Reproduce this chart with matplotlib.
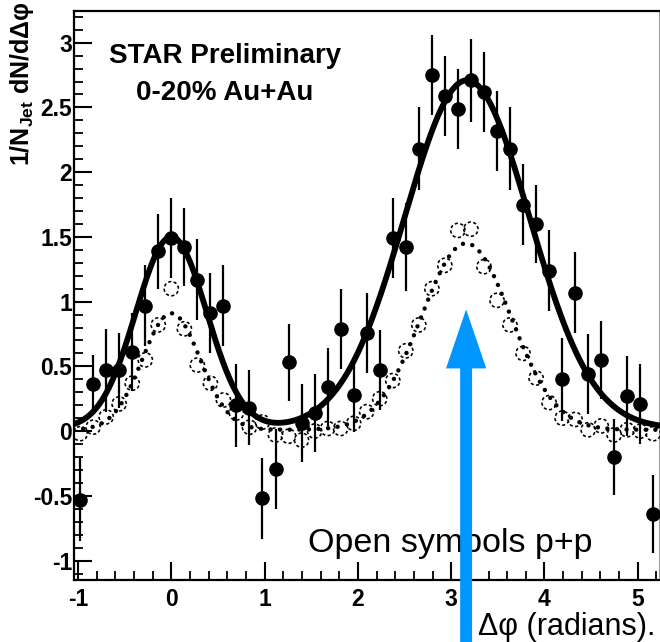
import numpy as np
import matplotlib
matplotlib.use("Agg")
import matplotlib.pyplot as plt
from matplotlib.patches import FancyArrowPatch, ArrowStyle
from matplotlib.ticker import MultipleLocator, FuncFormatter

plt.rcParams['font.family'] = ['Liberation Sans', 'DejaVu Sans']
plt.rcParams['axes.unicode_minus'] = False
plt.rcParams['mathtext.fontset'] = 'custom'
plt.rcParams['mathtext.rm'] = 'Liberation Sans:bold'
plt.rcParams['mathtext.it'] = 'Liberation Sans:bold'
plt.rcParams['mathtext.bf'] = 'Liberation Sans:bold'

# ---- data ----
dphi = [-0.977, -0.838, -0.698, -0.559, -0.419, -0.279, -0.140, 0.000, 0.140,
        0.279, 0.419, 0.559, 0.698, 0.838, 0.977, 1.117, 1.257, 1.396, 1.536,
        1.676, 1.815, 1.955, 2.094, 2.234, 2.374, 2.513, 2.653, 2.793, 2.932,
        3.072, 3.211, 3.351, 3.491, 3.630, 3.770, 3.910, 4.049, 4.189, 4.328,
        4.468, 4.608, 4.747, 4.887, 5.027, 5.166]

auau = [-0.53, 0.36, 0.47, 0.47, 0.61, 0.97, 1.39, 1.49, 1.42, 1.17, 0.91,
        0.97, 0.20, 0.18, -0.52, -0.29, 0.53, 0.06, 0.14, 0.34, 0.79, 0.28,
        0.76, 0.47, 1.49, 1.42, 2.18, 2.75, 2.59, 2.49, 2.71, 2.62, 2.32,
        2.18, 1.75, 1.60, 1.24, 0.40, 1.07, 0.44, 0.55, -0.20, 0.27, 0.21,
        -0.64]

auau_err = [0.32, 0.23, 0.32, 0.29, 0.30, 0.31, 0.29, 0.31, 0.30, 0.31,
            0.31, 0.31, 0.32, 0.29, 0.31, 0.31, 0.30, 0.30, 0.30, 0.30,
            0.31, 0.29, 0.31, 0.31, 0.31, 0.34, 0.32, 0.31, 0.31, 0.31,
            0.32, 0.31, 0.31, 0.32, 0.31, 0.30, 0.31, 0.32, 0.31, 0.31,
            0.30, 0.29, 0.31, 0.31, 0.30]

pp = [-0.02, 0.03, 0.11, 0.21, 0.37, 0.55, 0.82, 1.10, 0.79, 0.51, 0.37,
      0.24, 0.14, 0.03, 0.07, -0.03, -0.04, -0.07, 0.00, 0.02, 0.02, 0.06,
      0.15, 0.25, 0.39, 0.62, 0.82, 1.10, 1.28, 1.55, 1.56, 1.27, 1.01,
      0.82, 0.60, 0.41, 0.22, 0.10, 0.09, 0.01, 0.04, -0.03, 0.01, 0.00,
      -0.02]

# fit parameters (pedestal + near-side gaussian + away-side gaussian)
auau_fit = [0.02, 1.48, 0.00, 0.38, 2.69, 3.17, 0.67]
pp_fit = [0.01, 0.90, 0.00, 0.31, 1.44, 3.16, 0.48]

xticks = [-1, 0, 1, 2, 3, 4, 5]
yticks = [-1, -0.5, 0, 0.5, 1, 1.5, 2, 2.5, 3]


def fitfunc(x, p):
    b, a1, m1, s1, a2, m2, s2 = p
    return (b + a1 * np.exp(-(x - m1) ** 2 / (2 * s1 ** 2))
            + a2 * np.exp(-(x - m2) ** 2 / (2 * s2 ** 2)))


fig = plt.figure(figsize=(6.6, 6.42), dpi=100)
ax = fig.add_axes([0.1115, 0.0966, 0.8882, 0.8863])

xlo, xhi = -np.pi / 3, 5 * np.pi / 3
ax.set_xlim(xlo, xhi)
ax.set_ylim(-1.15, 3.245)

xs = np.linspace(xlo, xhi, 500)
ax.plot(xs, fitfunc(xs, auau_fit), color='black', lw=4.2, zorder=3,
        solid_capstyle='round')
ax.plot(xs, fitfunc(xs, pp_fit), color='black', lw=3.2,
        ls=(0, (0.01, 2.15)), dash_capstyle='round', zorder=3)

ax.errorbar(dphi, auau, yerr=auau_err, fmt='o', color='black', ms=9.5,
            elinewidth=1.6, capsize=0, zorder=4)
ax.scatter(dphi, pp, s=105, facecolors='none', edgecolors='black',
           linewidths=1.15, linestyle=(0, (2.0, 1.5)), zorder=5)

# axes styling
ax.xaxis.set_minor_locator(MultipleLocator(0.2))
ax.yaxis.set_minor_locator(MultipleLocator(0.1))
ax.set_xticks(xticks)
ax.set_yticks(yticks)
ax.yaxis.set_major_formatter(FuncFormatter(lambda v, p: '%g' % v))
ax.xaxis.set_major_formatter(FuncFormatter(lambda v, p: '%g' % v))
ax.tick_params(which='major', direction='in', length=13, width=1.5,
               labelsize=16.5, top=False, right=False)
ax.tick_params(which='minor', direction='in', length=6.5, width=1.3,
               top=False, right=False)
ax.tick_params(axis='y', which='major', pad=1)
ax.tick_params(axis='x', which='major', pad=6)
for lbl in ax.get_xticklabels() + ax.get_yticklabels():
    lbl.set_fontweight('bold')
for side in ['left', 'bottom', 'top']:
    ax.spines[side].set_linewidth(1.6)
ax.spines['right'].set_linewidth(1.2)
ax.spines['right'].set_color('#888888')

# texts
ax.text(0.258, 0.921, 'STAR Preliminary', transform=ax.transAxes,
        ha='center', va='center', fontsize=20, fontweight='bold', zorder=6)
ax.text(0.258, 0.856, '0-20% Au+Au', transform=ax.transAxes,
        ha='center', va='center', fontsize=20, fontweight='bold', zorder=6)

ax.text(308 / 660, 1 - 551.7 / 642, 'Open symbols p+p',
        transform=fig.transFigure, ha='left', va='baseline', fontsize=24.5,
        clip_on=False, zorder=6)
ax.text(478 / 660, 7 / 642, 'Δφ (radians).', transform=fig.transFigure,
        ha='left', va='baseline', fontsize=22, clip_on=False, zorder=6)

fig.text(22 / 660, 1 - 84 / 642, '1/N$_{\\rm Jet}$ dN/dΔφ', rotation=90,
         ha='center', va='center', fontsize=18, fontweight='bold')

# blue arrow pointing at the away-side peak
arrow_x = 3.16
arrow = FancyArrowPatch(posA=(arrow_x, -1.75), posB=(arrow_x, 0.94),
                        arrowstyle=ArrowStyle.Simple(head_length=42.5,
                                                     head_width=29,
                                                     tail_width=8.6),
                        mutation_scale=1, color='#0096FF', shrinkA=0,
                        shrinkB=0, clip_on=False, zorder=7, lw=0)
ax.add_patch(arrow)

fig.savefig('out.png', dpi=100)
